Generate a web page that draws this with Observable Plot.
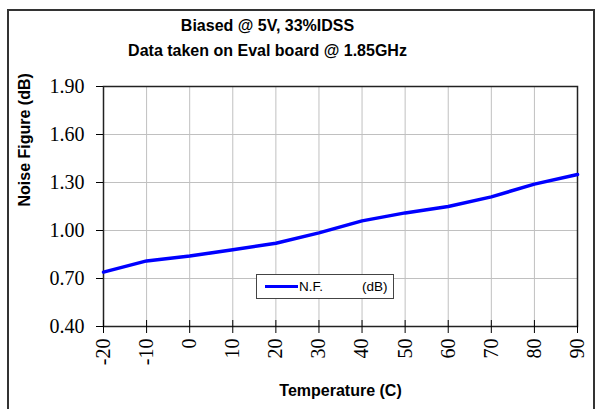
<!DOCTYPE html>
<html>
<head>
<meta charset="utf-8">
<script src="https://cdn.jsdelivr.net/npm/d3@7"></script>
<script src="https://cdn.jsdelivr.net/npm/@observablehq/plot@0.6"></script>
<style>
  html, body { margin: 0; padding: 0; background: #fff; }
  #wrap { position: relative; width: 601px; height: 409px; overflow: hidden; }
  #border { position: absolute; left: 7px; top: 9px; width: 588px; height: 410px; border: 2px solid #333; box-sizing: border-box; pointer-events: none; }
  #legend { position: absolute; left: 256px; top: 274px; width: 138px; height: 25px; border: 1px solid #444; background: #fff; box-sizing: border-box; font-family: "Liberation Sans", Arial, sans-serif; font-size: 13.5px; color: #000; }
  #legend .sw { position: absolute; left: 8px; top: 10px; width: 33px; height: 3px; background: #0000ff; }
  #legend .l1 { position: absolute; left: 42px; top: 4px; }
  #legend .l2 { position: absolute; left: 105px; top: 4px; }
  #chart svg { display: block; }
</style>
</head>
<body>
<div id="wrap">
  <div id="chart"></div>
  <div id="legend"><div class="sw"></div><span class="l1">N.F.</span><span class="l2">(dB)</span></div>
  <div id="border"></div>
</div>
<script>
const temps = [-20, -10, 0, 10, 20, 30, 40, 50, 60, 70, 80, 90];
const noiseFigure = [0.74, 0.81, 0.84, 0.88, 0.92, 0.985, 1.06, 1.11, 1.15, 1.21, 1.29, 1.35];
const yTicks = [0.40, 0.70, 1.00, 1.30, 1.60, 1.90];
const xTicks = [-20, -10, 0, 10, 20, 30, 40, 50, 60, 70, 80, 90];
const titleLines = ["Biased @ 5V, 33%IDSS", "Data taken on Eval board @ 1.85GHz"];
const xLabel = "Temperature (C)";
const yLabel = "Noise Figure (dB)";

const data = temps.map((t, i) => ({t, nf: noiseFigure[i]}));
const sans = "Liberation Sans, Arial, sans-serif";

const chart = Plot.plot({
  width: 601,
  height: 409,
  marginLeft: 103,
  marginRight: 24,
  marginTop: 86,
  marginBottom: 83,
  style: {fontFamily: "Liberation Serif, 'Times New Roman', serif", fontSize: "20px", background: "transparent", color: "#000"},
  x: {domain: [-20, 90]},
  y: {domain: [0.4, 1.9]},
  marks: [
    Plot.gridX(xTicks, {stroke: "#c0c0c0", strokeOpacity: 1}),
    Plot.gridY(yTicks, {stroke: "#c0c0c0", strokeOpacity: 1}),
    Plot.frame({stroke: "#222", strokeWidth: 1.5}),
    Plot.tickX(xTicks, {x: d => d, insetTop: 234, stroke: "#000"}),
    Plot.axisY(yTicks, {tickSize: 7, tickPadding: 12, tickFormat: d => d.toFixed(2), label: null, fontSize: 20}),
    Plot.axisX(xTicks, {tickSize: 7, tickPadding: 5, tickRotate: -90, tickFormat: d => String(d), label: null, fontSize: 20}),
    Plot.line(data, {x: "t", y: "nf", stroke: "#0000ff", strokeWidth: 3.5}),
    Plot.text([titleLines[0]], {frameAnchor: "top", lineAnchor: "middle", dy: -61, dx: -73, fontFamily: sans, fontWeight: "bold", fontSize: 16, fill: "#000"}),
    Plot.text([titleLines[1]], {frameAnchor: "top", lineAnchor: "middle", dy: -36, dx: -73, fontFamily: sans, fontWeight: "bold", fontSize: 16, fill: "#000"}),
    Plot.text([xLabel], {frameAnchor: "bottom", lineAnchor: "middle", dy: 64, fontFamily: sans, fontWeight: "bold", fontSize: 16, fill: "#000"}),
    Plot.text([yLabel], {frameAnchor: "left", lineAnchor: "middle", dx: -79, rotate: -90, fontFamily: sans, fontWeight: "bold", fontSize: 16, fill: "#000"})
  ]
});
document.getElementById("chart").appendChild(chart);
</script>
</body>
</html>
